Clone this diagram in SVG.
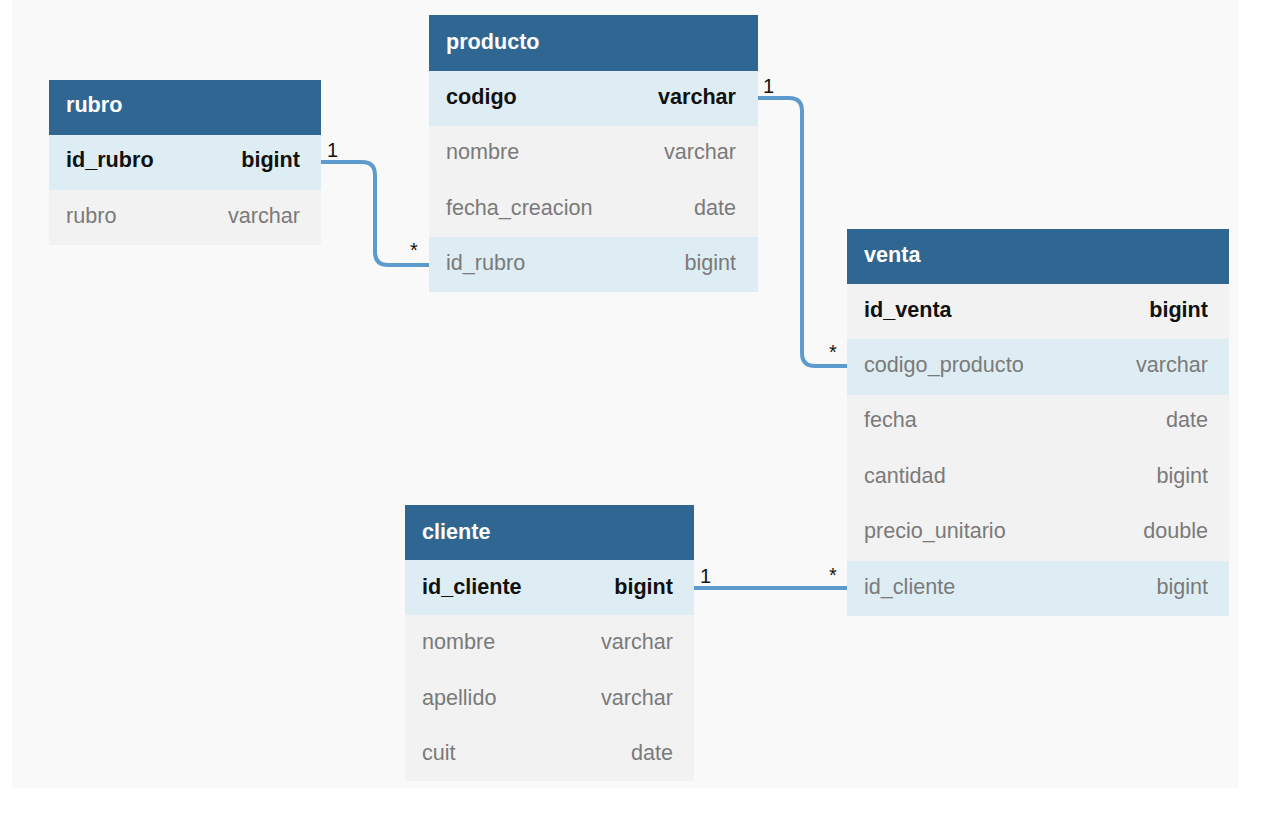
<svg xmlns="http://www.w3.org/2000/svg" width="1265" height="819" viewBox="0 0 1265 819">
<style>
text{font-family:"Liberation Sans",Arial,sans-serif;font-size:21.6px}
.h{fill:#2f6792}
.hd{fill:#ffffff;font-weight:bold}
.pk{fill:#deedf3}
.rw{fill:#f2f2f2}
.b{fill:#111;font-weight:bold}
.n{fill:#7a7a7a}
.r{text-anchor:end}
.c{fill:none;stroke:#5d9bcf;stroke-width:4}
.lb{fill:#111;font-size:20px}
</style>
<rect x="0" y="0" width="1265" height="819" fill="#ffffff"/>
<rect x="12" y="0" width="1226" height="788" fill="#f9f9f9"/>
<g id="connectors">
<path class="c" d="M321,162 H362 Q375,162 375,175 V252 Q375,265 388,265 H429"/>
<path class="c" d="M758,98 H789 Q802,98 802,111 V353 Q802,366 815,366 H847"/>
<path class="c" d="M694,588 H847"/>
<text class="lb" x="327" y="157">1</text>
<text class="lb" x="410" y="257">*</text>
<text class="lb" x="763" y="93">1</text>
<text class="lb" x="829" y="359">*</text>
<text class="lb" x="700" y="583">1</text>
<text class="lb" x="829" y="582">*</text>
</g>
<g id="rubro">
<rect class="h" x="49" y="80" width="272" height="55"/>
<rect class="pk" x="49" y="135" width="272" height="55"/>
<rect class="rw" x="49" y="190" width="272" height="55"/>
<text class="hd" x="66" y="112">rubro</text>
<text class="b" x="66" y="167">id_rubro</text><text class="b r" x="300" y="167">bigint</text>
<text class="n" x="66" y="223">rubro</text><text class="n r" x="300" y="223">varchar</text>
</g>
<g id="producto">
<rect class="h" x="429" y="15" width="329" height="56"/>
<rect class="pk" x="429" y="71" width="329" height="55"/>
<rect class="rw" x="429" y="126" width="329" height="111"/>
<rect class="pk" x="429" y="237" width="329" height="55"/>
<text class="hd" x="446" y="49">producto</text>
<text class="b" x="446" y="104">codigo</text><text class="b r" x="736" y="104">varchar</text>
<text class="n" x="446" y="159">nombre</text><text class="n r" x="736" y="159">varchar</text>
<text class="n" x="446" y="215">fecha_creacion</text><text class="n r" x="736" y="215">date</text>
<text class="n" x="446" y="270">id_rubro</text><text class="n r" x="736" y="270">bigint</text>
</g>
<g id="venta">
<rect class="h" x="847" y="229" width="382" height="55"/>
<rect class="rw" x="847" y="284" width="382" height="55"/>
<rect class="pk" x="847" y="339" width="382" height="56"/>
<rect class="rw" x="847" y="395" width="382" height="166"/>
<rect class="pk" x="847" y="561" width="382" height="55"/>
<text class="hd" x="864" y="262">venta</text>
<text class="b" x="864" y="317">id_venta</text><text class="b r" x="1208" y="317">bigint</text>
<text class="n" x="864" y="372">codigo_producto</text><text class="n r" x="1208" y="372">varchar</text>
<text class="n" x="864" y="427">fecha</text><text class="n r" x="1208" y="427">date</text>
<text class="n" x="864" y="483">cantidad</text><text class="n r" x="1208" y="483">bigint</text>
<text class="n" x="864" y="538">precio_unitario</text><text class="n r" x="1208" y="538">double</text>
<text class="n" x="864" y="594">id_cliente</text><text class="n r" x="1208" y="594">bigint</text>
</g>
<g id="cliente">
<rect class="h" x="405" y="505" width="289" height="55"/>
<rect class="pk" x="405" y="560" width="289" height="55"/>
<rect class="rw" x="405" y="615" width="289" height="166"/>
<text class="hd" x="422" y="539">cliente</text>
<text class="b" x="422" y="594">id_cliente</text><text class="b r" x="673" y="594">bigint</text>
<text class="n" x="422" y="649">nombre</text><text class="n r" x="673" y="649">varchar</text>
<text class="n" x="422" y="705">apellido</text><text class="n r" x="673" y="705">varchar</text>
<text class="n" x="422" y="760">cuit</text><text class="n r" x="673" y="760">date</text>
</g>
</svg>
